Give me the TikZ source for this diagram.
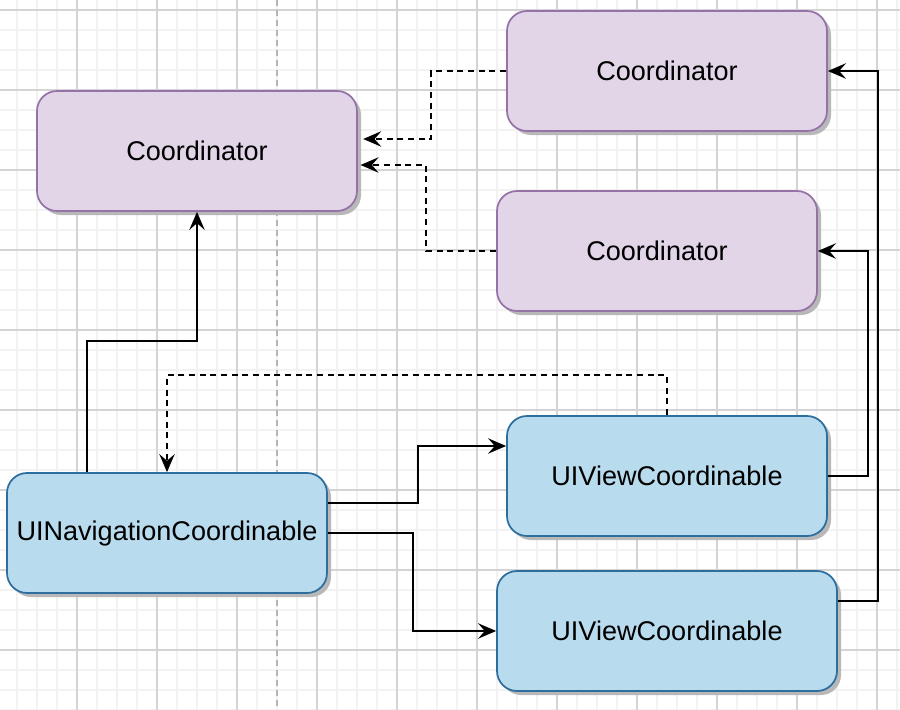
\documentclass[tikz,border=0pt]{standalone}
\usepackage{fontspec}
\setmainfont{Liberation Sans}
\usetikzlibrary{arrows.meta,shadows,calc}
\definecolor{gridminor}{HTML}{F2F2F2}
\definecolor{gridmajor}{HTML}{D4D4D4}
\definecolor{guide}{HTML}{B5B5B5}
\definecolor{purpfill}{HTML}{E1D5E7}
\definecolor{purpdraw}{HTML}{9673A6}
\definecolor{bluefill}{HTML}{B9DBEE}
\definecolor{bluedraw}{HTML}{2E6E9E}
\tikzset{
  box/.style={rectangle, rounded corners=15pt, minimum width=240pt, minimum height=90pt,
    line width=1.3pt, inner sep=0pt, font=\fontsize{20.3}{24}\selectfont,
    drop shadow={shadow xshift=3pt, shadow yshift=-3pt, fill=black!28, opacity=1}},
  purp/.style={box, fill=purpfill, draw=purpdraw},
  blue/.style={box, fill=bluefill, draw=bluedraw},
  conn/.style={line width=1.5pt, -{Stealth[length=13.5pt, width=11.5pt, inset=5pt]}},
  dconn/.style={conn, dash pattern=on 4.5pt off 3.5pt},
}
\begin{document}
\begin{tikzpicture}[x=0.75pt, y=-0.75pt]
\useasboundingbox (0,0) rectangle (900,710);
\fill[white] (0,0) rectangle (900,710);
\begin{scope}
\clip (0,0) rectangle (900,710);
\foreach \x in {17,37,...,897} \draw[gridminor, line width=1.2pt] (\x,0) -- (\x,710);
\foreach \y in {10,30,...,710} \draw[gridminor, line width=1.2pt] (0,\y) -- (900,\y);
\foreach \x in {77,157,...,877} \draw[gridmajor, line width=0.9pt] (\x,0) -- (\x,710);
\foreach \y in {10,90,...,650} \draw[gridmajor, line width=0.9pt] (0,\y) -- (900,\y);
\draw[guide, line width=1.4pt, dash pattern=on 4.5pt off 3pt] (277,0) -- (277,710);
\end{scope}

\node[purp] (c1) at (197,151) {Coordinator};
\node[purp] (c2) at (667,71) {Coordinator};
\node[purp] (c3) at (657,251) {Coordinator};
\node[blue] (nav) at (167,533) {UINavigationCoordinable};
\node[blue] (v1) at (667,476) {UIViewCoordinable};
\node[blue, minimum width=255pt] (v2) at (667,631) {UIViewCoordinable};

\draw[conn] ([xshift=-60pt]nav.north) -- ++(0,-131) -| (c1.south);
\draw[dconn] (c2.west) -- ++(-75,0) |- ([xshift=4pt,yshift=9pt]c1.east);
\draw[dconn] (c3.west) -- ++(-70,0) |- ([xshift=2pt,yshift=-10.5pt]c1.east);
\draw[dconn] (v1.north) -- ++(0,-40) -| (nav.north);
\draw[conn] ([yshift=22.5pt]nav.east) -- ++(90,0) |- ([yshift=22.5pt]v1.west);
\draw[conn] (nav.east) -- ++(85,0) |- (v2.west);
\draw[conn] (v1.east) -- ++(40,0) |- (c3.east);
\draw[conn] ([yshift=22.5pt]v2.east) -- ++(40,0) |- (c2.east);
\end{tikzpicture}
\end{document}
